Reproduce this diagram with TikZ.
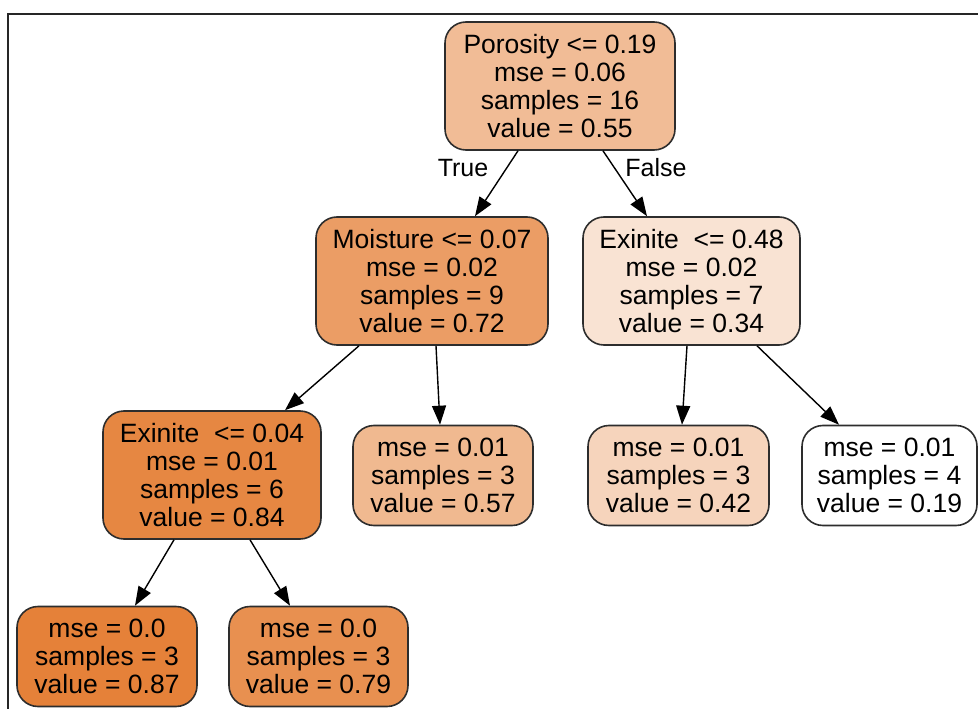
\documentclass[tikz,border=0pt]{standalone}
\usepackage{fontspec}
\setmainfont{Liberation Sans}
\usetikzlibrary{arrows.meta}

% node fills: white blended towards the base orange by predicted value
\definecolor{v55}{RGB}{241,188,150}
\definecolor{v72}{RGB}{235,157,101}
\definecolor{v34}{RGB}{249,227,211}
\definecolor{v84}{RGB}{230,135,66}
\definecolor{v57}{RGB}{240,185,144}
\definecolor{v42}{RGB}{246,212,188}
\definecolor{v19}{RGB}{255,255,255}
\definecolor{v87}{RGB}{229,129,57}
\definecolor{v79}{RGB}{232,144,80}
\definecolor{edgegray}{RGB}{45,45,45}

\tikzset{
  treenode/.style={draw=edgegray, line width=1.6pt, rounded corners=21pt,
    inner sep=0pt, align=center,
    font=\fontsize{26.5}{28}\selectfont},
  split/.style={treenode, minimum height=128pt},
  leaf/.style={treenode, minimum height=100pt},
  edge/.style={line width=1.4pt, -{Triangle[length=19pt,width=14pt]}},
  branch/.style={font=\fontsize{25}{28}\selectfont, inner sep=0pt},
}

\begin{document}
\begin{tikzpicture}[x=1pt, y=-1pt]
\useasboundingbox (0,0) rectangle (978,709);

% outer frame, cut by the page on the right and bottom
\draw[line width=2.6pt, black!85] (978,14) -- (8,14) -- (8,709);

% split nodes
\node[split, fill=v55, minimum width=230pt] (root) at (560,86)
  {Porosity <= 0.19\\mse = 0.06\\samples = 16\\value = 0.55};
\node[split, fill=v72, minimum width=232pt] (moist) at (432,281)
  {Moisture <= 0.07\\mse = 0.02\\samples = 9\\value = 0.72};
\node[split, fill=v34, minimum width=217pt] (exiA) at (691.5,281)
  {Exinite\ \ <= 0.48\\mse = 0.02\\samples = 7\\value = 0.34};
\node[split, fill=v84, minimum width=218pt] (exiB) at (212,475)
  {Exinite\ \ <= 0.04\\mse = 0.01\\samples = 6\\value = 0.84};

% leaves
\node[leaf, fill=v57, minimum width=180pt] (l57) at (443,475.5)
  {mse = 0.01\\samples = 3\\value = 0.57};
\node[leaf, fill=v42, minimum width=181pt] (l42) at (678.5,475.5)
  {mse = 0.01\\samples = 3\\value = 0.42};
\node[leaf, fill=v19, minimum width=175pt] (l19) at (889.5,475.5)
  {mse = 0.01\\samples = 4\\value = 0.19};
\node[leaf, fill=v87, minimum width=180pt] (l87) at (107,656.5)
  {mse = 0.0\\samples = 3\\value = 0.87};
\node[leaf, fill=v79, minimum width=179pt] (l79) at (318.5,656.5)
  {mse = 0.0\\samples = 3\\value = 0.79};

% connectors
\draw[edge] ([xshift=-42pt]root.south) -- ([xshift=43pt]moist.north);
\draw[edge] ([xshift=43pt]root.south) -- ([xshift=-44.5pt]exiA.north);
\draw[edge] ([xshift=-73pt]moist.south) -- ([xshift=73pt]exiB.north);
\draw[edge] ([xshift=4pt]moist.south) -- ([xshift=-3pt]l57.north);
\draw[edge] ([xshift=-4.5pt]exiA.south) -- ([xshift=3.5pt]l42.north);
\draw[edge] ([xshift=65.5pt]exiA.south) -- ([xshift=-50.5pt]l19.north);
\draw[edge] ([xshift=-38pt]exiB.south) -- ([xshift=28pt]l87.north);
\draw[edge] ([xshift=38pt]exiB.south) -- ([xshift=-28.5pt]l79.north);

% branch labels
\node[branch] (tlab) at (463,168) {True};
\node[branch] (flab) at (656,168) {False};
\end{tikzpicture}
\end{document}
